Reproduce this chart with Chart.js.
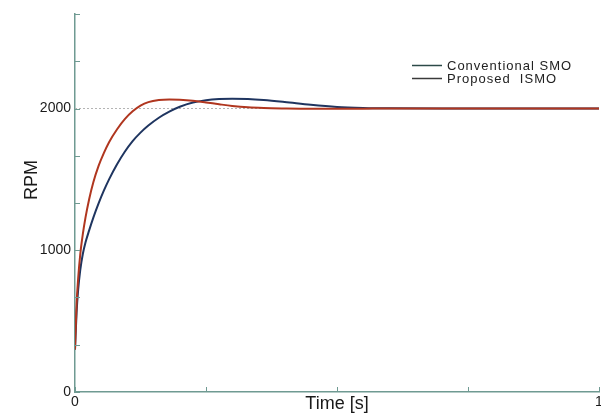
<!DOCTYPE html>
<html>
<head>
<meta charset="utf-8">
<script src="https://cdn.jsdelivr.net/npm/chart.js@4.4.1/dist/chart.umd.min.js"></script>
<style>
  html, body { margin: 0; padding: 0; background: #fff; }
</style>
</head>
<body>
<canvas id="rpmChart" width="601" height="415"></canvas>
<script>
// values (RPM vs time)
const timeS = [0, 0.003, 0.006, 0.01, 0.015, 0.02, 0.027, 0.035, 0.045, 0.055, 0.065, 0.08, 0.095,
  0.11, 0.125, 0.14, 0.16, 0.18, 0.2, 0.225, 0.25, 0.275, 0.3, 0.33, 0.36, 0.4, 0.45, 0.5, 0.55,
  0.6, 0.7, 0.8, 0.9, 1.0];
const conventionalSmo = [300, 560, 720, 860, 975, 1055, 1140, 1230, 1330, 1420, 1500, 1605, 1695,
  1770, 1830, 1880, 1935, 1978, 2012, 2042, 2059, 2067, 2069, 2067, 2060, 2046, 2026, 2011, 2004,
  2001, 2000, 2000, 2000, 2000];
const proposedIsmo = [300, 620, 800, 970, 1115, 1230, 1360, 1480, 1595, 1685, 1762, 1852, 1925,
  1980, 2020, 2045, 2060, 2064, 2062, 2055, 2043, 2030, 2018, 2008, 2003, 2000, 1998, 1998, 1999,
  2000, 2000, 2000, 2000, 2000];
const referenceRpm = 2000;

const xTickValues = [0, 0.25, 0.5, 0.75, 1];
const xTickLabels = ['0', '', '', '', '1'];
const yTickValues = [0, 333.33, 666.67, 1000, 1333.33, 1666.67, 2000, 2333.33, 2666.67];
const yTickLabels = ['0', '', '', '1000', '', '', '2000', '', ''];
const seriesNames = ['Conventional SMO', 'Proposed  ISMO'];

const axisColor = '#6f9a92';
const textColor = '#1a1a1a';
const fontFam = "'Liberation Sans', Arial, sans-serif";

// kleine Extras: Ticks nach innen, RPM-Titel, Legende
const axisExtras = {
  id: 'axisExtras',
  afterDraw(chart) {
    const { ctx, chartArea, scales } = chart;
    ctx.save();
    ctx.strokeStyle = axisColor;
    ctx.lineWidth = 1;
    scales.y.ticks.forEach(t => {
      const py = Math.round(scales.y.getPixelForValue(t.value)) + 0.5;
      ctx.beginPath();
      ctx.moveTo(chartArea.left, py);
      ctx.lineTo(chartArea.left + 5, py);
      ctx.stroke();
    });
    scales.x.ticks.forEach(t => {
      const px = Math.round(scales.x.getPixelForValue(t.value)) + 0.5;
      ctx.beginPath();
      ctx.moveTo(px, chartArea.bottom);
      ctx.lineTo(px, chartArea.bottom - 5);
      ctx.stroke();
    });

    ctx.fillStyle = textColor;
    ctx.font = '18px ' + fontFam;
    ctx.textAlign = 'center';
    ctx.textBaseline = 'middle';
    ctx.translate(32, 180);
    ctx.rotate(-Math.PI / 2);
    ctx.fillText('RPM', 0, 0);
    ctx.setTransform(1, 0, 0, 1, 0, 0);

    // Legende oben rechts
    const legendColors = ['#2c4a48', '#3a3a3a'];
    ctx.font = '13px ' + fontFam;
    ctx.letterSpacing = '1px';
    ctx.textAlign = 'left';
    seriesNames.forEach((name, i) => {
      const ly = 65.5 + i * 13;
      ctx.strokeStyle = legendColors[i];
      ctx.lineWidth = 1.5;
      ctx.beginPath();
      ctx.moveTo(412, ly);
      ctx.lineTo(442, ly);
      ctx.stroke();
      ctx.fillStyle = '#222';
      ctx.fillText(name, 447, ly + 0.5);
    });
    ctx.restore();
  }
};

const ctx = document.getElementById('rpmChart');
new Chart(ctx, {
  type: 'line',
  data: {
    datasets: [
      {
        label: seriesNames[1],
        data: timeS.map((t, i) => ({ x: t, y: proposedIsmo[i] })),
        borderColor: '#b0361f',
        borderWidth: 2,
        pointRadius: 0,
        cubicInterpolationMode: 'monotone',
        order: 0
      },
      {
        label: seriesNames[0],
        data: timeS.map((t, i) => ({ x: t, y: conventionalSmo[i] })),
        borderColor: '#1f3560',
        borderWidth: 2,
        pointRadius: 0,
        cubicInterpolationMode: 'monotone',
        order: 1
      },
      {
        label: 'reference',
        data: [{ x: 0, y: referenceRpm }, { x: 1, y: referenceRpm }],
        borderColor: '#b4b4b4',
        borderWidth: 1,
        borderDash: [2, 2],
        pointRadius: 0,
        order: 2
      }
    ]
  },
  options: {
    responsive: false,
    animation: false,
    devicePixelRatio: 1,
    layout: { padding: { top: 14, right: 0, left: 0, bottom: 0 } },
    plugins: { legend: { display: false }, tooltip: { enabled: false } },
    scales: {
      x: {
        type: 'linear',
        min: 0,
        max: 1,
        afterBuildTicks: s => { s.ticks = xTickValues.map(v => ({ value: v })); },
        afterFit: s => { s.height = 23; s.paddingRight = 2; },
        ticks: {
          callback: (v, i) => xTickLabels[i],
          autoSkip: false,
          maxRotation: 0,
          padding: 2,
          color: textColor,
          font: { size: 14, family: fontFam }
        },
        grid: { display: false, drawTicks: false },
        border: { display: true, color: axisColor, width: 1.5 },
        title: {
          display: true,
          text: 'Time [s]',
          color: textColor,
          font: { size: 18, family: fontFam },
          padding: { top: 0, bottom: 0 }
        }
      },
      y: {
        min: 0,
        max: 2666.67,
        afterBuildTicks: s => { s.ticks = yTickValues.map(v => ({ value: v })); },
        afterFit: s => { s.width = 75; },
        ticks: {
          callback: (v, i) => yTickLabels[i],
          autoSkip: false,
          padding: 4,
          color: textColor,
          font: { size: 14, family: fontFam }
        },
        grid: { display: false, drawTicks: false },
        border: { display: true, color: axisColor, width: 1.5 }
      }
    }
  },
  plugins: [axisExtras]
});
</script>
</body>
</html>
